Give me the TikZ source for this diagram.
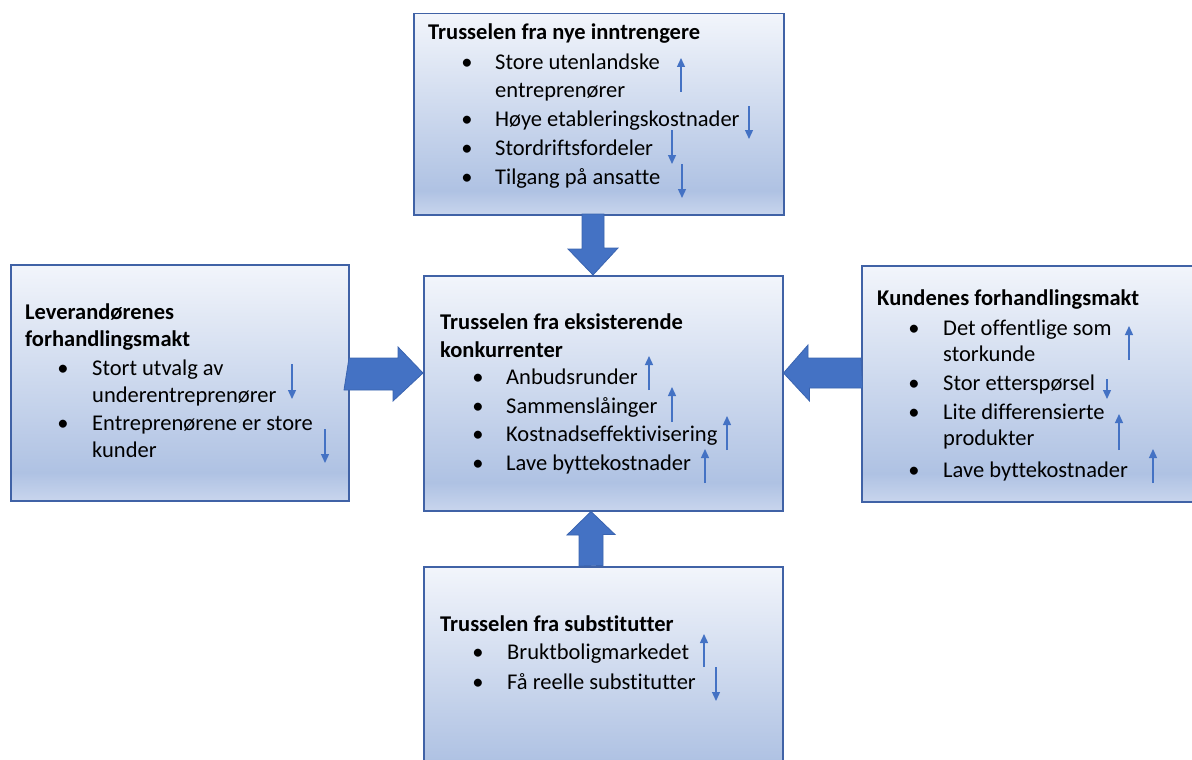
\documentclass[tikz,border=0pt]{standalone}
\usepackage{fontspec}
\setmainfont[Ligatures={NoCommon}]{Carlito}
\usetikzlibrary{arrows.meta,calc}
\definecolor{boxline}{RGB}{64,98,166}
\definecolor{arrfill}{HTML}{4472C4}
\definecolor{arrline}{HTML}{3A64B0}
\definecolor{shT}{HTML}{F2F5FB}
\definecolor{shM}{HTML}{AFC2E3}
\definecolor{shB}{HTML}{C8D5ED}
\pgfdeclareverticalshading{boxshade}{100bp}{color(0bp)=(shB); color(25bp)=(shB); color(31bp)=(shM); color(75bp)=(shT); color(100bp)=(shT)}
\tikzset{
  forcebox/.style={rectangle, draw=boxline, line width=1.5pt, shading=boxshade, inner sep=0pt, anchor=north west},
  ttl/.style={anchor=base west, inner sep=0pt, font=\fontsize{22.5}{27}\selectfont\bfseries},
  itm/.style={anchor=base west, inner sep=0pt, font=\fontsize{22.5}{27}\selectfont},
  bul/.style={anchor=base, inner sep=0pt, font=\fontsize{22.5}{27}\selectfont},
  blockarr/.style={fill=arrfill, draw=arrline, line width=0.8pt, line join=miter},
  trend/.style={draw=arrfill, line width=1.3pt, -{Triangle[width=8pt,length=9pt]}},
}
\begin{document}
\begin{tikzpicture}[x=1pt,y=-1pt]
\useasboundingbox (0,0) rectangle (1192,760);
\clip (0,0) rectangle (1192,760);
\fill[white] (0,0) rectangle (1192,760);

% boxes
\node[forcebox, minimum width=370, minimum height=201] (topbox) at (413,13) {};
\node[forcebox, minimum width=338, minimum height=236] (leftbox) at (10,264) {};
\node[forcebox, minimum width=359, minimum height=235] (midbox) at (423,275) {};
\node[forcebox, minimum width=340, minimum height=236] (rightbox) at (861,265) {};
\node[forcebox, minimum width=359, minimum height=220] (botbox) at (423,566) {};

% block arrows
\coordinate (ta) at (593,214);
\coordinate (ra) at (861,373);
\coordinate (la) at (349,373);
\coordinate (ba) at (591,566);
\draw[blockarr] (ta) ++(-11,0) -- ++(22,0) -- ++(0,34) -- ++(14,0) -- (midbox.north -| ta) -- ++(-25,-26) -- ++(14,0) -- cycle;
\draw[blockarr] (la) ++(0,-15) -- ++(49,0) -- ++(0,-11) -- (midbox.west |- la) -- ++(-30,28) -- ++(0,-11) -- ++(-49,0) -- cycle;
\draw[blockarr] (ra) ++(0,-15) -- ++(-53,0) -- ++(0,-13) -- (midbox.east |- ra) -- ++(26,28) -- ++(0,-13) -- ++(53,0) -- cycle;
\draw[blockarr] (ba) ++(-12,0) -- ++(0,-31) -- ++(-12,0) -- (midbox.south -| ba) -- ++(24,23) -- ++(-12,0) -- ++(0,31) -- cycle;

% top box text
\node[ttl] (t0) at (428,40) {Trusselen fra nye inntrengere};
\node[bul] (tb1) at (467,70) {•};
\node[itm] (t1) at (495,70) {Store utenlandske};
\node[itm] (t1b) at (495,98) {entreprenører};
\node[bul] (tb2) at (467,126) {•};
\node[itm] (t2) at (495,126) {Høye etableringskostnader};
\node[bul] (tb3) at (467,155) {•};
\node[itm] (t3) at (495,155) {Stordriftsfordeler};
\node[bul] (tb4) at (467,184) {•};
\node[itm] (t4) at (495,184) {Tilgang på ansatte};
\coordinate (tu1a) at (681,92); \coordinate (tu1b) at (681,58);
\coordinate (td2a) at (749,106); \coordinate (td2b) at (749,139);
\coordinate (td3a) at (672,130); \coordinate (td3b) at (672,164);
\coordinate (td4a) at (682,164); \coordinate (td4b) at (682,198);
\draw[trend] (tu1a) -- (tu1b);
\draw[trend] (td2a) -- (td2b);
\draw[trend] (td3a) -- (td3b);
\draw[trend] (td4a) -- (td4b);

% left box text
\node[ttl] (l0) at (25,319) {Leverandørenes};
\node[ttl] (l0b) at (25,346) {forhandlingsmakt};
\node[bul] (lb1) at (63,375) {•};
\node[itm] (l1) at (92,375) {Stort utvalg av};
\node[itm] (l1b) at (92,402) {underentreprenører};
\node[bul] (lb2) at (63,430) {•};
\node[itm] (l2) at (92,430) {Entreprenørene er store};
\node[itm] (l2b) at (92,457) {kunder};
\coordinate (ld1a) at (292,364); \coordinate (ld1b) at (292,399);
\coordinate (ld2a) at (325,429); \coordinate (ld2b) at (325,463);
\draw[trend] (ld1a) -- (ld1b);
\draw[trend] (ld2a) -- (ld2b);

% center box text
\node[ttl] (m0) at (440,329) {Trusselen fra eksisterende};
\node[ttl] (m0b) at (440,357) {konkurrenter};
\node[bul] (mb1) at (478,384) {•};
\node[itm] (m1) at (506,384) {Anbudsrunder};
\node[bul] (mb2) at (478,413) {•};
\node[itm] (m2) at (506,413) {Sammenslåinger};
\node[bul] (mb3) at (478,441) {•};
\node[itm] (m3) at (506,441) {Kostnadseffektivisering};
\node[bul] (mb4) at (478,470) {•};
\node[itm] (m4) at (506,470) {Lave byttekostnader};
\coordinate (mu1a) at (649,390); \coordinate (mu1b) at (649,356);
\coordinate (mu2a) at (672,422); \coordinate (mu2b) at (672,387);
\coordinate (mu3a) at (727,450); \coordinate (mu3b) at (727,416);
\coordinate (mu4a) at (705,483); \coordinate (mu4b) at (705,449);
\draw[trend] (mu1a) -- (mu1b);
\draw[trend] (mu2a) -- (mu2b);
\draw[trend] (mu3a) -- (mu3b);
\draw[trend] (mu4a) -- (mu4b);

% right box text
\node[ttl] (r0) at (877,305) {Kundenes forhandlingsmakt};
\node[bul] (rb1) at (914,335) {•};
\node[itm] (r1) at (943,335) {Det offentlige som};
\node[itm] (r1b) at (943,361) {storkunde};
\node[bul] (rb2) at (914,390) {•};
\node[itm] (r2) at (943,390) {Stor etterspørsel};
\node[bul] (rb3) at (914,419) {•};
\node[itm] (r3) at (943,419) {Lite differensierte};
\node[itm] (r3b) at (943,445) {produkter};
\node[bul] (rb4) at (914,477) {•};
\node[itm] (r4) at (943,477) {Lave byttekostnader};
\coordinate (ru1a) at (1129,360); \coordinate (ru1b) at (1129,326);
\coordinate (rd2a) at (1107,379); \coordinate (rd2b) at (1107,399);
\coordinate (ru3a) at (1119,450); \coordinate (ru3b) at (1119,414);
\coordinate (ru4a) at (1153,483); \coordinate (ru4b) at (1153,449);
\draw[trend] (ru1a) -- (ru1b);
\draw[trend] (rd2a) -- (rd2b);
\draw[trend] (ru3a) -- (ru3b);
\draw[trend] (ru4a) -- (ru4b);

% bottom box text
\node[ttl] (b0) at (440,631) {Trusselen fra substitutter};
\node[bul] (bb1) at (478,659) {•};
\node[itm] (b1) at (507,659) {Bruktboligmarkedet};
\node[bul] (bb2) at (478,689) {•};
\node[itm] (b2) at (507,689) {Få reelle substitutter};
\coordinate (bu1a) at (704,667); \coordinate (bu1b) at (704,634);
\coordinate (bd2a) at (716,667); \coordinate (bd2b) at (716,701);
\draw[trend] (bu1a) -- (bu1b);
\draw[trend] (bd2a) -- (bd2b);
\end{tikzpicture}
\end{document}
